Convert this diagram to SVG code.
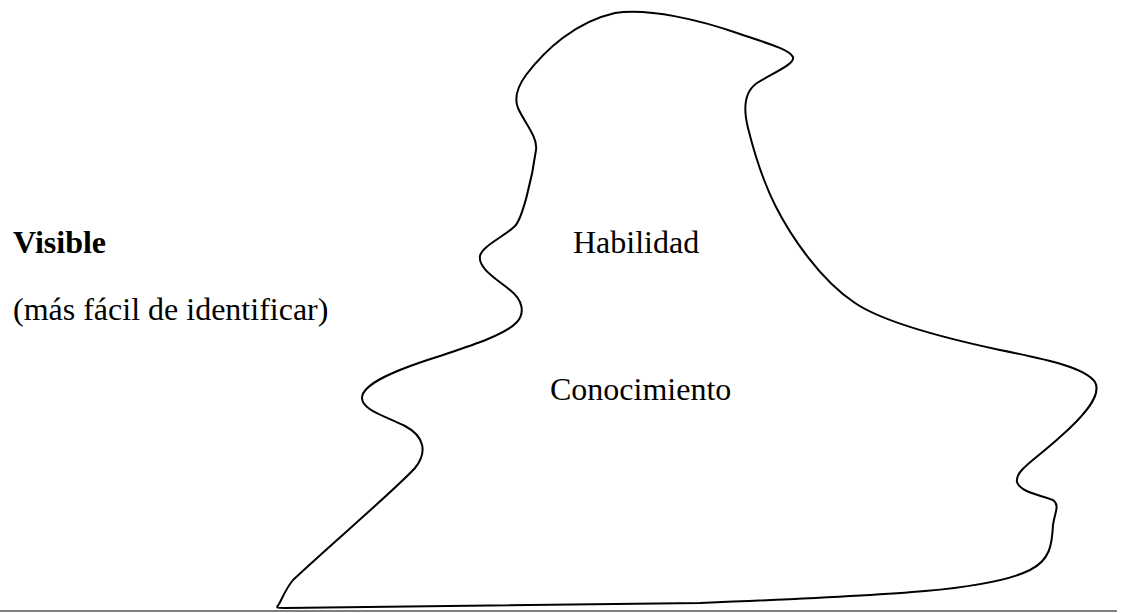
<svg xmlns="http://www.w3.org/2000/svg" width="1125" height="613" viewBox="0 0 1125 613">
<style>
.t{font-family:"Liberation Serif","Times New Roman",serif;font-size:32px;fill:#000}
.b{font-weight:bold}
.shape{fill:none;stroke:#000;stroke-width:2;stroke-linejoin:round}
.base{stroke:#555;stroke-width:1.4}
</style>
<rect width="1125" height="613" fill="#fff"/>
<g id="iceberg">
<path class="shape" d="M 279,604 C 283,597 285,590 293,580 C 330,545 395,490 415,468 C 428,452 424,436 405,426 C 385,416 362,410 362,398 C 362,384 395,370 440,356 C 470,346 505,335 517,322 C 525,313 523,300 510,290 C 495,278 478,268 480,256 C 482,246 505,236 515,226 C 522,219 532,180 536,150 C 538,137 524,122 518,108 C 514,98 518,86 526,75 C 545,50 575,22 615,13 C 650,8 700,20 740,34 C 770,44 790,50 793,57 C 795,64 775,72 757,83 C 744,92 743,108 748,128 C 753,148 760,175 775,205 C 790,235 820,280 855,303 C 880,320 930,335 1000,350 C 1050,360 1085,368 1095,382 C 1102,395 1085,415 1060,437 C 1035,460 1015,470 1017,482 C 1020,492 1040,495 1053,500 C 1060,505 1055,512 1053,525 C 1052,545 1050,560 1030,570 C 990,590 900,595 700,603 C 500,606 350,608 285,608 C 276,608 276,608 279,604 Z"/>
</g>
<g id="baseline">
<line class="base" x1="0" y1="611" x2="1117" y2="611"/>
</g>
<g id="label-visible">
<text class="t b" x="13" y="253">Visible</text>
<text class="t" x="13" y="320">(más fácil de identificar)</text>
</g>
<g id="label-habilidad">
<text class="t" x="573" y="253">Habilidad</text>
</g>
<g id="label-conocimiento">
<text class="t" x="550" y="400">Conocimiento</text>
</g>
</svg>
